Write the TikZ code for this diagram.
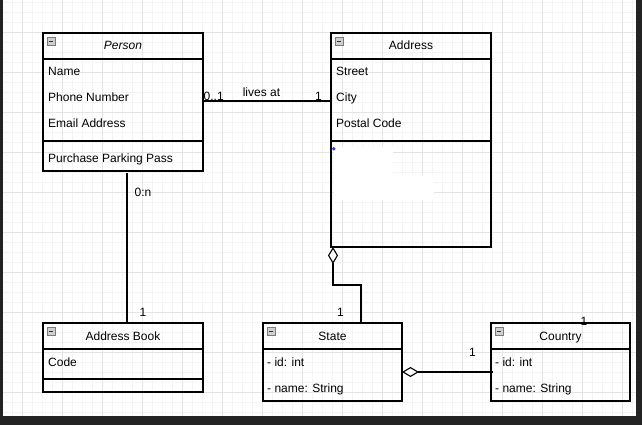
\documentclass[tikz,border=0pt]{standalone}
\usepackage{fontspec}
\setmainfont{Liberation Sans}
\usetikzlibrary{arrows.meta,calc}
\definecolor{minorgrid}{HTML}{F4F4F4}
\definecolor{majorgrid}{HTML}{E4E4E4}
\definecolor{frame}{HTML}{232323}
\definecolor{icongray}{HTML}{CFCFCF}
\definecolor{iconedge}{HTML}{7A7A7A}
\definecolor{dotblue}{HTML}{3C3CD0}
\begin{document}
\begin{tikzpicture}[x=1pt,y=-1pt,
  cbox/.style={draw=black, line width=1.1pt, inner sep=0pt, outer sep=0pt, anchor=north west},
  sepline/.style={draw=black, line width=1.1pt},
  conn/.style={draw=black, line width=1.1pt},
  txt/.style={inner sep=0pt, anchor=base west, font=\fontsize{12}{14}\selectfont},
  ttl/.style={inner sep=0pt, anchor=base, font=\fontsize{12}{14}\selectfont},
  lbl/.style={inner sep=0pt, anchor=base, font=\fontsize{12}{14}\selectfont},
  agg/.style={{Diamond[open,length=17pt,width=10pt]}-},
  icon/.style={draw=iconedge, fill=icongray, line width=0.8pt}
]
\useasboundingbox (0,0) rectangle (642,425);
\fill[white] (0,0) rectangle (642,425);
% grid
\foreach \k in {0,...,63} {\draw[minorgrid, line width=0.8pt] (2.7+10*\k,0) -- (2.7+10*\k,425);}
\foreach \k in {0,...,41} {\draw[minorgrid, line width=0.8pt] (0,2.7+10*\k) -- (642,2.7+10*\k);}
\foreach \k in {0,...,15} {\draw[majorgrid, line width=0.8pt] (22.7+40*\k,0) -- (22.7+40*\k,425);}
\foreach \k in {0,...,9} {\draw[majorgrid, line width=0.8pt] (0,32.7+40*\k) -- (642,32.7+40*\k);}
% white patches in Address
\fill[white] (334,147) rectangle (393,178);
\fill[white] (334,175) rectangle (434,200);
\fill[dotblue] (333.8,148.8) circle (1.9);
% class boxes
\node[cbox, minimum width=160pt, minimum height=138pt] (person) at (43,33) {};
\node[cbox, minimum width=160pt, minimum height=214pt] (address) at (331,33) {};
\node[cbox, minimum width=160pt, minimum height=69pt] (addrbook) at (43,323) {};
\node[cbox, minimum width=139pt, minimum height=78pt] (state) at (263,323) {};
\node[cbox, minimum width=139pt, minimum height=78pt] (country) at (491,323) {};
% separators
\draw[sepline] ($(person.north west)+(0,26)$) -- ++(160,0);
\draw[sepline] ($(person.north west)+(0,108)$) -- ++(160,0);
\draw[sepline] ($(address.north west)+(0,26)$) -- ++(160,0);
\draw[sepline] ($(address.north west)+(0,108)$) -- ++(160,0);
\draw[sepline] ($(addrbook.north west)+(0,26)$) -- ++(160,0);
\draw[sepline] ($(addrbook.north west)+(0,56)$) -- ++(160,0);
\draw[sepline] ($(state.north west)+(0,26)$) -- ++(139,0);
\draw[sepline] ($(country.north west)+(0,26)$) -- ++(139,0);
% icons
\foreach \b in {person,address,addrbook,state,country} {
  \draw[icon] ($(\b.north west)+(4.5,4.5)$) rectangle ++(7.5,7.5);
  \draw[black!80, line width=0.9pt] ($(\b.north west)+(6.3,8.25)$) -- ++(3.9,0);
}
% titles
\node[ttl] (tperson) at (123,50) {\itshape Person};
\node[ttl] (taddress) at (411,50) {Address};
\node[ttl] (taddrbook) at (123,340) {Address Book};
\node[ttl] (tstate) at (332.5,340) {State};
\node[ttl] (tcountry) at (560.5,340) {Country};
% members
\node[txt] (pname) at (48,76) {Name};
\node[txt] (pphone) at (48,102) {Phone Number};
\node[txt] (pemail) at (48,128) {Email Address};
\node[txt] (ppass) at (48,162) {Purchase Parking Pass};
\node[txt] (astreet) at (336,76) {Street};
\node[txt] (acity) at (336,102) {City};
\node[txt] (apostal) at (336,128) {Postal Code};
\node[txt] (bcode) at (48,366) {Code};
\node[txt] (sid) at (267,366) {- id: int};
\node[txt] (sname) at (267,392) {- name: String};
\node[txt] (cid) at (495,366) {- id: int};
\node[txt] (cname) at (495,392) {- name: String};
% connectors
\draw[conn] ($(person.north east)+(0,68)$) -- ($(address.north west)+(0,68)$);
\draw[conn] ($(person.south)+(4,2)$) -- ($(addrbook.north)+(4,0)$);
\draw[conn, agg] ($(address.south west)+(2,0)$) -- ++(0,38) -| ($(state.north west)+(98,0)$);
\draw[conn, agg] ($(state.north east)+(0,49)$) -- ($(country.north west)+(2,49)$);
% connector labels
\node[txt] (m01) at (203.5,100.5) {0..1};
\node[lbl] (mlives) at (261.5,97) {lives at};
\node[lbl] (m1a) at (318.5,100.5) {1};
\node[lbl] (m0n) at (143,196) {0:n};
\node[lbl] (m1b) at (143,316) {1};
\node[lbl] (m1c) at (340.5,316) {1};
\node[lbl] (m1d) at (472.5,356) {1};
\node[lbl] (m1e) at (584,325) {1};
% dark frame
\fill[frame] (0,0) rectangle (3,425);
\fill[frame] (636,0) rectangle (642,425);
\fill[frame] (0,415.5) rectangle (642,425);
\end{tikzpicture}
\end{document}
